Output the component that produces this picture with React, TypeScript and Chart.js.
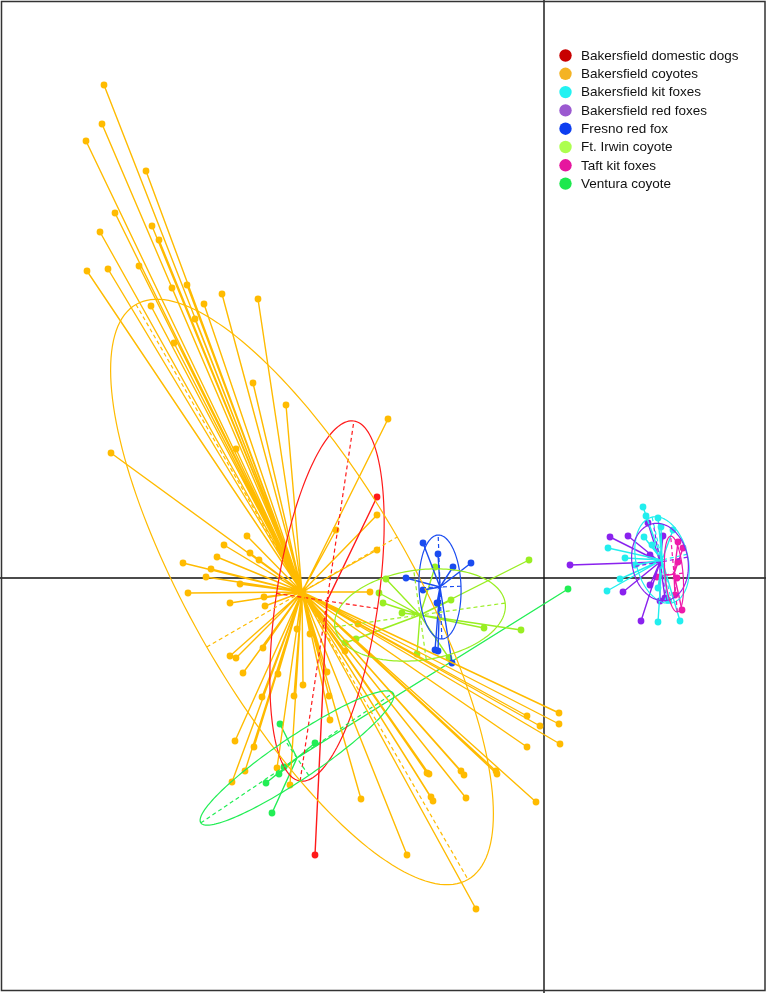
import React, { useEffect, useRef } from "react";
import { Chart, registerables } from "chart.js";

Chart.register(...registerables);

// ---------- data (discriminant axis 1 = x, axis 2 = y) ----------
const groupNames = [
  "Bakersfield domestic dogs",
  "Bakersfield coyotes",
  "Bakersfield kit foxes",
  "Bakersfield red foxes",
  "Fresno red fox",
  "Ft. Irwin coyote",
  "Taft kit foxes",
  "Ventura coyote",
];
const lineColors = ["#ff1a1a", "#ffbb00", "#22eeee", "#8a22ee", "#1a4cf0", "#99ee22", "#ee1aaa", "#22ee55"];
const legendColors = ["#c80000", "#f4b323", "#22f2f2", "#9b59d0", "#0d3ef0", "#adff4f", "#e6169e", "#1de84e"];

// group centroids
const centroidX = [-2.17, -2.42, 1.18, 1.16, -1.04, -1.24, 1.30, -2.47];
const centroidY = [-0.23, -0.14, 0.18, 0.16, -0.09, -0.37, 0.04, -1.80];

// inertia ellipses: semi-axes and angle (degrees) of major axis
const ellipseA = [1.82, 3.32, 0.44, 0.39, 0.52, 0.86, 0.38, 1.16];
const ellipseB = [0.51, 1.10, 0.26, 0.28, 0.21, 0.45, 0.09, 0.21];
const ellipseAngle = [81.5, -60, 103, 100, 92, 8, 95, 34];

const dogsX = [-1.67, -2.29];
const dogsY = [0.81, -2.77];

const coyotesX = [
  -4.40, -4.42, -4.58, -3.98, -4.29, -3.92, -4.44, -3.85, -4.57, -4.36, -4.05, -3.72, -3.57, -3.22, -2.86,
  -3.93, -3.40, -3.49, -3.70, -2.91, -2.58, -4.33, -3.08, -1.56, -1.67, -2.08, -1.67, -2.97, -3.20, -2.94,
  -2.85, -3.27, -3.61, -3.33, -3.38, -3.04, -3.56, -1.74, -2.80, -3.14, -2.79, -1.86, -2.47, -2.34, -3.14,
  -3.08, -2.81, -1.99, -3.01, -2.66, -2.17, -2.41, -2.82, -2.50, -2.15, -2.14, -3.09, -2.90, -2.99, -2.67,
  -3.12, -2.54, -1.83, 0.15, 0.15, -0.17, -0.04, 0.16, -0.17, -1.17, -1.15, -0.83, -0.80, -0.48, -0.47,
  -1.13, -1.11, -0.78, -0.08, -1.37, -0.68,
];
const coyotesY = [
  4.93, 4.54, 4.37, 4.07, 3.65, 3.52, 3.46, 3.38, 3.07, 3.09, 3.12, 2.90, 2.93, 2.84, 2.79,
  2.72, 2.74, 2.59, 2.35, 1.95, 1.73, 1.25, 1.29, 1.59, 0.63, 0.48, 0.28, 0.42, 0.33, 0.25,
  0.18, 0.21, 0.15, 0.09, 0.01, -0.06, -0.15, -0.14, -0.19, -0.25, -0.28, -0.46, -0.51, -0.56, -0.78,
  -0.80, -0.70, -0.73, -0.95, -0.96, -0.94, -1.07, -1.19, -1.18, -1.18, -1.42, -1.63, -1.69, -1.93, -1.90,
  -2.04, -2.07, -2.21, -1.35, -1.46, -1.38, -1.48, -1.66, -1.69, -1.95, -1.96, -1.93, -1.97, -1.93, -1.96,
  -2.19, -2.23, -2.20, -2.24, -2.77, -3.31,
];

const kitX = [0.99, 1.02, 1.14, 1.17, 1.00, 0.64, 1.08, 0.81, 0.76, 0.63, 1.14, 1.14, 1.36, 0.91, 1.29, 1.24];
const kitY = [0.71, 0.62, 0.60, 0.51, 0.41, 0.30, 0.33, 0.20, -0.01, -0.13, -0.10, -0.44, -0.43, 0.13, 0.48, -0.22];

const redFoxX = [0.66, 0.84, 1.19, 1.06, 1.06, 0.79, 1.16, 1.21, 0.97, 0.26, 1.04];
const redFoxY = [0.41, 0.42, 0.42, 0.23, -0.07, -0.14, -0.23, -0.20, -0.43, 0.13, 0.55];

const fresnoX = [-1.21, -1.06, -0.91, -0.73, -1.38, -1.21, -1.07, -1.09, -1.06, -0.92];
const fresnoY = [0.35, 0.24, 0.11, 0.15, 0.00, -0.12, -0.25, -0.72, -0.73, -0.85];

const irwinX = [-1.58, -1.65, -1.61, -1.42, -1.09, -0.93, -0.15, -0.60, -0.23, -1.99, -1.88, -1.27, -0.95];
const irwinY = [-0.01, -0.15, -0.25, -0.35, 0.11, -0.22, 0.18, -0.50, -0.52, -0.65, -0.61, -0.76, -0.80];

const taftX = [1.34, 1.39, 1.34, 1.33, 1.38, 1.13, 1.31];
const taftY = [0.36, 0.30, 0.16, 0.00, -0.32, 0.01, -0.17];

const venturaX = [-2.64, -2.29, -2.60, -2.65, -2.78, -2.72, 0.24];
const venturaY = [-1.46, -1.65, -1.89, -1.96, -2.05, -2.35, -0.11];

const groupX = [dogsX, coyotesX, kitX, redFoxX, fresnoX, irwinX, taftX, venturaX];
const groupY = [dogsY, coyotesY, kitY, redFoxY, fresnoY, irwinY, taftY, venturaY];

const X_MIN = -5.44;
const X_MAX = 2.22;
const Y_MIN = -4.15;
const Y_MAX = 5.78;

const WIDTH = 766;
const HEIGHT = 993;

export default function App() {
  const canvasRef = useRef<HTMLCanvasElement | null>(null);

  useEffect(() => {
    document.body.style.margin = "0";
    const canvas = canvasRef.current;
    if (!canvas) return;

    const datasets = groupNames.map((name, g) => {
      const c = { x: centroidX[g], y: centroidY[g] };
      const data: { x: number; y: number }[] = [];
      groupX[g].forEach((x, i) => {
        data.push(c);
        data.push({ x, y: groupY[g][i] });
      });
      return {
        label: name,
        data,
        showLine: true,
        borderColor: lineColors[g],
        backgroundColor: lineColors[g],
        borderWidth: 1.4,
        tension: 0,
        pointRadius: (ctx: any) => (ctx.dataIndex % 2 === 0 ? 0 : 3.4),
        pointBorderWidth: 0,
        pointHoverRadius: 0,
      };
    });

    const framePlugin = {
      id: "frame",
      beforeDatasetsDraw(chart: any) {
        const ctx = chart.ctx;
        const xs = chart.scales.x;
        const ys = chart.scales.y;
        const x0 = xs.getPixelForValue(0);
        const y0 = ys.getPixelForValue(0);
        ctx.save();
        ctx.strokeStyle = "#111";
        ctx.lineWidth = 1.4;
        ctx.beginPath();
        ctx.moveTo(x0, 0);
        ctx.lineTo(x0, HEIGHT);
        ctx.moveTo(0, y0);
        ctx.lineTo(WIDTH, y0);
        ctx.stroke();
        ctx.restore();
      },
      afterDatasetsDraw(chart: any) {
        const ctx = chart.ctx;
        const xs = chart.scales.x;
        const ys = chart.scales.y;
        ctx.save();
        groupNames.forEach((_, g) => {
          const cx = centroidX[g];
          const cy = centroidY[g];
          const a = ellipseA[g];
          const b = ellipseB[g];
          const th = (ellipseAngle[g] * Math.PI) / 180;
          const ct = Math.cos(th);
          const st = Math.sin(th);
          ctx.strokeStyle = lineColors[g];
          ctx.lineWidth = 1.2;
          ctx.setLineDash([]);
          ctx.beginPath();
          for (let k = 0; k <= 180; k++) {
            const t = (k / 180) * Math.PI * 2;
            const dx = a * Math.cos(t);
            const dy = b * Math.sin(t);
            const px = xs.getPixelForValue(cx + dx * ct - dy * st);
            const py = ys.getPixelForValue(cy + dx * st + dy * ct);
            if (k === 0) ctx.moveTo(px, py);
            else ctx.lineTo(px, py);
          }
          ctx.closePath();
          ctx.stroke();
          // dashed axes
          ctx.setLineDash([4, 3]);
          ctx.beginPath();
          ctx.moveTo(xs.getPixelForValue(cx - a * ct), ys.getPixelForValue(cy - a * st));
          ctx.lineTo(xs.getPixelForValue(cx + a * ct), ys.getPixelForValue(cy + a * st));
          ctx.moveTo(xs.getPixelForValue(cx + b * st), ys.getPixelForValue(cy - b * ct));
          ctx.lineTo(xs.getPixelForValue(cx - b * st), ys.getPixelForValue(cy + b * ct));
          ctx.stroke();
        });
        ctx.restore();
      },
      afterDraw(chart: any) {
        const ctx = chart.ctx;
        ctx.save();
        // outer frame
        ctx.strokeStyle = "#333";
        ctx.lineWidth = 1.5;
        ctx.strokeRect(1.5, 1.5, 763.5, 989);
        // legend
        ctx.font = "13.5px 'Liberation Sans', Arial, sans-serif";
        ctx.textBaseline = "middle";
        ctx.textAlign = "left";
        groupNames.forEach((name, g) => {
          const y = 55.5 + g * 18.3;
          ctx.fillStyle = legendColors[g];
          ctx.beginPath();
          ctx.arc(565.5, y, 6.2, 0, Math.PI * 2);
          ctx.fill();
          ctx.fillStyle = "#111";
          ctx.fillText(name, 581, y + 0.5);
        });
        ctx.restore();
      },
    };

    const chart = new Chart(canvas, {
      type: "scatter",
      data: { datasets: datasets as any },
      options: {
        animation: false,
        responsive: false,
        maintainAspectRatio: false,
        layout: { padding: 0, autoPadding: false },
        plugins: { legend: { display: false }, tooltip: { enabled: false } },
        events: [],
        scales: {
          x: { type: "linear", min: X_MIN, max: X_MAX, display: false },
          y: { type: "linear", min: Y_MIN, max: Y_MAX, display: false },
        },
      },
      plugins: [framePlugin],
    });
    return () => chart.destroy();
  }, []);

  return (
    <div style={{ width: WIDTH, height: HEIGHT, background: "#fff" }}>
      <canvas ref={canvasRef} width={WIDTH} height={HEIGHT} style={{ display: "block" }} />
    </div>
  );
}
